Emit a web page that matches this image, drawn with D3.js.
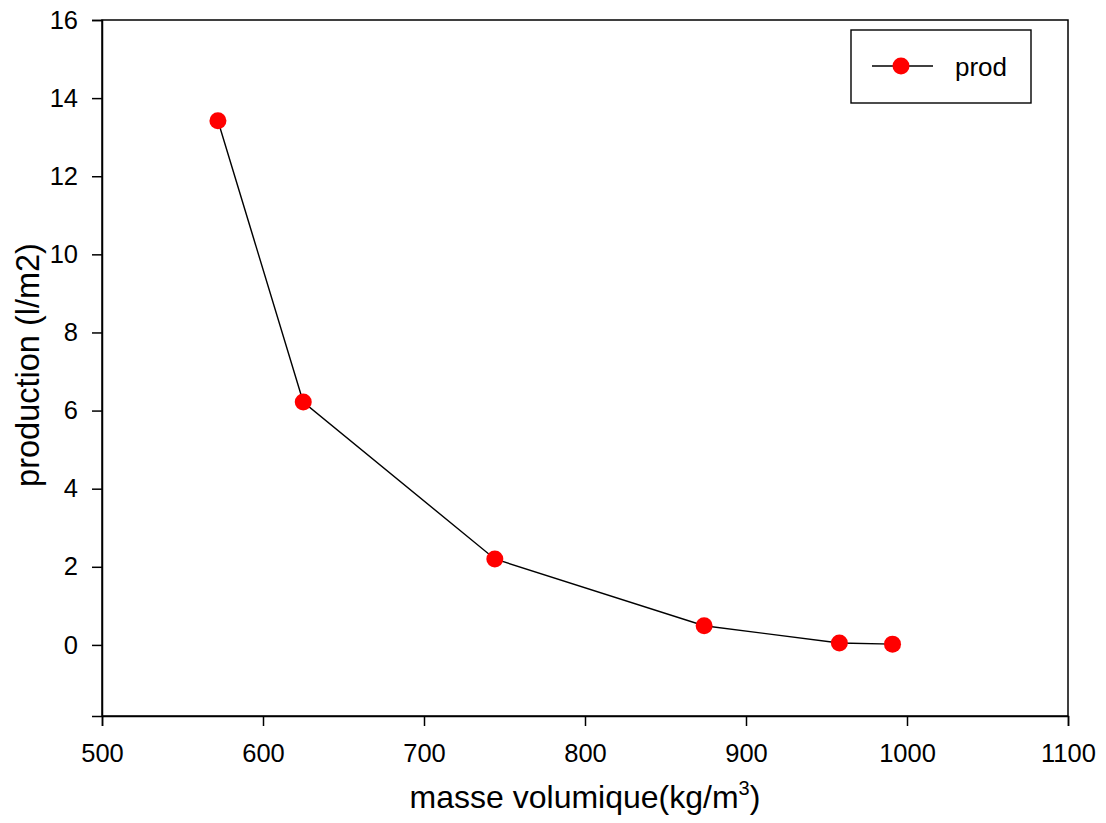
<!DOCTYPE html>
<html><head><meta charset="utf-8">
<script src="https://cdn.jsdelivr.net/npm/d3@7"></script>
<style>body{margin:0;background:#fff}svg text{font-family:"Liberation Sans",Arial,sans-serif;fill:#000}</style>
</head><body>
<script>
const density = [572, 625, 744, 874, 958, 991];
const production = [13.42, 6.22, 2.2, 0.49, 0.05, 0.02];
const xTicks = [500, 600, 700, 800, 900, 1000, 1100];
const yTicks = [0, 2, 4, 6, 8, 10, 12, 14, 16];
const seriesName = "prod";

const W = 1106, H = 823;
const L = 102, R = 1068, T = 20, B = 716;
const svg = d3.select("body").append("svg").attr("width", W).attr("height", H);
const x = d3.scaleLinear().domain([500, 1100]).range([L, R]);
const y = d3.scaleLinear().domain([-1.82, 16]).range([B, T]);

// frame
svg.append("rect").attr("x", L).attr("y", T).attr("width", R - L).attr("height", B - T)
  .attr("fill", "none").attr("stroke", "#000").attr("stroke-width", 1.5);

const xa = svg.append("g").attr("transform", `translate(0,${B})`)
  .call(d3.axisBottom(x).tickValues(xTicks).tickSize(10).tickPadding(18).tickFormat(d3.format("d")));
const ya = svg.append("g").attr("transform", `translate(${L},0)`)
  .call(d3.axisLeft(y).tickValues(yTicks).tickSize(10).tickPadding(14).tickFormat(d3.format("d")));
[xa, ya].forEach(g => {
  g.select(".domain").attr("stroke-width", 1.5);
  g.selectAll(".tick line").attr("stroke-width", 1.5);
  g.selectAll(".tick text").style("font-size", "25.5px").style("font-family", '"Liberation Sans",Arial,sans-serif').attr("fill", "#000");
});

const line = d3.line().x((d, i) => x(density[i])).y(d => y(d));
svg.append("path").datum(production).attr("d", line).attr("fill", "none").attr("stroke", "#000").attr("stroke-width", 1.4);
svg.selectAll("circle.pt").data(production).enter().append("circle").attr("class", "pt")
  .attr("cx", (d, i) => x(density[i])).attr("cy", d => y(d)).attr("r", 8.5).attr("fill", "#ff0000");

// axis titles
const xt = svg.append("text").attr("x", 585).attr("y", 808).attr("text-anchor", "middle").style("font-size", "32px");
xt.append("tspan").text("masse volumique(kg/m");
xt.append("tspan").text("3").style("font-size", "20px").attr("dy", -13);
xt.append("tspan").text(")").attr("dy", 13);

svg.append("text").attr("transform", `translate(39,365) rotate(-90)`).attr("text-anchor", "middle")
  .style("font-size", "32.5px").text("production (l/m2)");

// legend
const lg = svg.append("g");
lg.append("rect").attr("x", 851).attr("y", 30).attr("width", 180).attr("height", 73).attr("fill", "#fff").attr("stroke", "#000").attr("stroke-width", 1.4);
lg.append("line").attr("x1", 872).attr("x2", 933).attr("y1", 66).attr("y2", 66).attr("stroke", "#000").attr("stroke-width", 1.4);
lg.append("circle").attr("cx", 901).attr("cy", 66).attr("r", 8.5).attr("fill", "#ff0000");
lg.append("text").attr("x", 955).attr("y", 76).style("font-size", "26px").text(seriesName);
</script>
</body></html>
